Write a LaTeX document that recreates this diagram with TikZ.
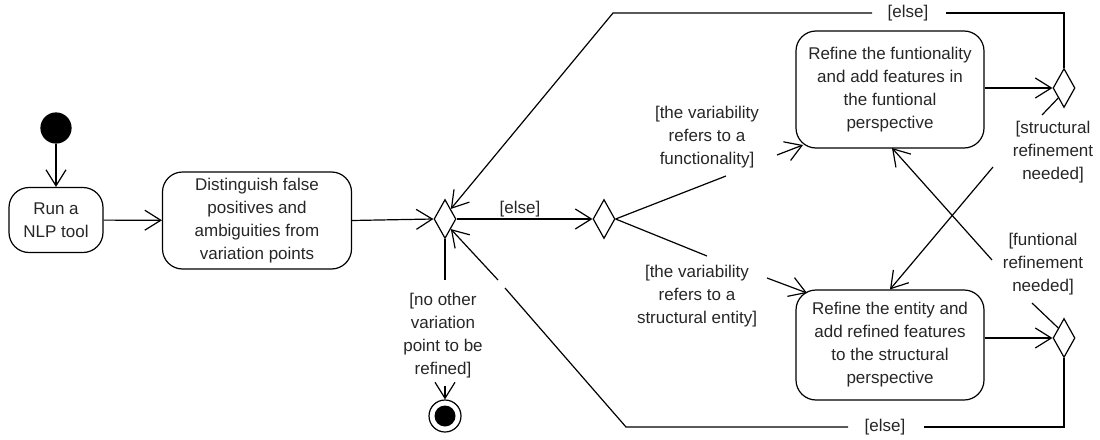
\documentclass[tikz,border=0pt]{standalone}
\usepackage{fontspec}
\setmainfont{Liberation Sans}
\usetikzlibrary{shapes.geometric,arrows.meta}
\begin{document}
\begin{tikzpicture}[x=1pt,y=-1pt,
  line width=1.2pt,
  every node/.style={font=\fontsize{17}{23}\selectfont, text=black!85},
  act/.style={draw, rounded corners=20pt, align=center, inner sep=0pt},
  dec/.style={draw, diamond, minimum width=22pt, minimum height=39pt, inner sep=0pt},
  guard/.style={align=center, inner sep=1pt},
  arr/.style={-{Straight Barb[length=16pt,width=20pt]}},
]
\useasboundingbox (0,0) rectangle (1100,439);

% nodes
\node[circle, draw, fill=black, minimum size=30pt, inner sep=0pt] (init) at (56,128) {};
\node[act, minimum width=94pt, minimum height=65pt] (run) at (56,220) {Run a\\NLP tool};
\node[act, minimum width=189pt, minimum height=97pt] (dist) at (257,220.5) {Distinguish false\\positives and\\ambiguities from\\variation points};
\node[dec] (d1) at (445,219) {};
\node[dec] (d2) at (604,219) {};
\node[act, minimum width=188pt, minimum height=117pt] (fbox) at (890,89.5) {Refine the funtionality\\and add features in\\the funtional\\perspective};
\node[act, minimum width=188pt, minimum height=110pt] (sbox) at (890,345) {Refine the entity and\\add refined features\\to the structural\\perspective};
\node[dec] (du) at (1064,88) {};
\node[dec] (dl) at (1064,338) {};
\node[circle, draw, minimum size=32pt, inner sep=0pt] (fin) at (445,416) {};
\node[circle, fill=black, minimum size=21pt, inner sep=0pt] (finin) at (445,416) {};

% guard labels
\node[guard] (gelse1) at (520,209) {[else]};
\node[guard] (gfunc) at (707,137) {[the variability\\refers to a\\functionality]};
\node[guard] (gstruct) at (697,296) {[the variability\\refers to a\\structural entity]};
\node[guard] (gelsetop) at (908,13) {[else]};
\node[guard] (gelsebot) at (885,427) {[else]};
\node[guard] (gsref) at (1053,152) {[structural\\refinement\\needed]};
\node[guard] (gfref) at (1043,264) {[funtional\\refinement\\needed]};
\node[guard] (gnoother) at (443,335.5) {[no other\\variation\\point to be\\refined]};

% bend / free-end coordinates
\coordinate (a1) at (726,176);
\coordinate (a2) at (777,155);
\coordinate (a3) at (803,145);
\coordinate (b1) at (707,256);
\coordinate (b2) at (767,278);
\coordinate (b3) at (807,293);
\coordinate (t1) at (1064,13);
\coordinate (t2) at (946,13);
\coordinate (t3) at (872,13);
\coordinate (t4) at (613,13);
\coordinate (l1) at (1064,427);
\coordinate (l2) at (924,427);
\coordinate (l3) at (848,427);
\coordinate (l4) at (626,427);
\coordinate (l5) at (505,288);
\coordinate (l6) at (498,280);
\coordinate (s1) at (1042,115);
\coordinate (s2) at (993,167);
\coordinate (f1) at (1032,303);
\coordinate (f2) at (992,260);
\coordinate (f3) at (892,148);
\coordinate (n1) at (445,280);
\coordinate (n2) at (445,386);

% connectors
\draw[arr] (init) -- (run);
\draw[arr] (run) -- (dist);
\draw[arr] (dist.east) -- (d1.west);
\draw[arr] (d1.east) -- (d2.west);
\draw (d2.east) -- (a1);
\draw[arr] (a2) -- (a3);
\draw (d2.east) -- (b1);
\draw[arr] (b2) -- (b3);
\draw[arr] (fbox.east |- du.west) -- (du.west);
\draw[arr] (sbox.east |- dl.west) -- (dl.west);
\draw (du.north) -- (t1) -- (t2);
\draw[arr] (t3) -- (t4) -- (d1.north east);
\draw (dl.south) -- (l1) -- (l2);
\draw (l3) -- (l4) -- (l5);
\draw[arr] (l6) -- (d1.south east);
\draw (du.south west) -- (s1);
\draw[arr] (s2) -- (sbox.north);
\draw (dl.north west) -- (f1);
\draw[arr] (f2) -- (f3);
\draw (d1.south) -- (n1);
\draw[arr] (n2) -- (fin.north);
\end{tikzpicture}
\end{document}
